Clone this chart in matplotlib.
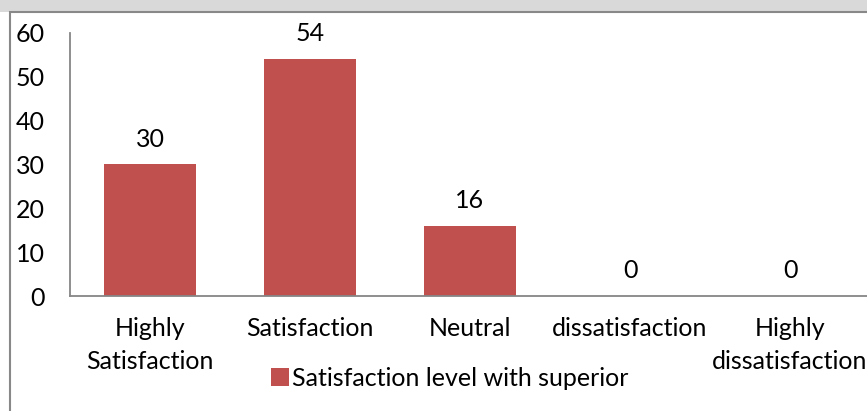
import matplotlib
matplotlib.use("Agg")
import matplotlib.pyplot as plt
from matplotlib.patches import Rectangle

categories = ["Highly\nSatisfaction", "Satisfaction", "Neutral",
              "dissatisfaction", "Highly\ndissatisfaction"]
values = [30, 54, 16, 0, 0]
series_name = "Satisfaction level with superior"
y_ticks = [0, 10, 20, 30, 40, 50, 60]

W, H = 867, 411
plt.rcParams['font.family'] = ['Lato', 'DejaVu Sans']

fig = plt.figure(figsize=(W / 100, H / 100), dpi=100)
fig.patch.set_facecolor("white")

# faint watermark band at the top and the outer chart frame
fig.patches.append(Rectangle((0, 1 - 12 / H), 1, 12 / H, transform=fig.transFigure,
                             facecolor="#d9d9d9", edgecolor="none", zorder=-2))
fig.patches.append(Rectangle((9.5 / W, -0.1), 1.2, 1 - 12.5 / H + 0.1,
                             transform=fig.transFigure, facecolor="white",
                             edgecolor="#888888", linewidth=1.5, zorder=-1))

ax = fig.add_axes([70 / W, (H - 296) / H, 800 / W, 263 / H])
ax.set_zorder(2)
ax.set_facecolor("none")
x = range(len(categories))
bars = ax.bar(x, values, width=0.57, color="#C0504D", label=series_name, zorder=2)

for xi, v in zip(x, values):
    ax.annotate(str(v), (xi, v), xytext=(0, 10), textcoords="offset points",
                ha="center", va="bottom", fontsize=18, color="black")

ax.set_xlim(-0.5, len(categories) - 0.5)
ax.set_ylim(0, 60)
ax.set_yticks(y_ticks)
ax.set_xticks(list(x))
ax.set_xticklabels(categories, linespacing=1.55)
ax.tick_params(axis="both", length=0, labelsize=18, colors="black")
ax.tick_params(axis="y", pad=18)
ax.tick_params(axis="x", pad=15)

for s in ["top", "right"]:
    ax.spines[s].set_visible(False)
for s in ["left", "bottom"]:
    ax.spines[s].set_color("#868686")
    ax.spines[s].set_linewidth(1.3)

ax.legend(loc="center", bbox_to_anchor=(450 / W, (H - 378) / H),
          bbox_transform=fig.transFigure, frameon=False, fontsize=18,
          handlelength=0.7, handleheight=0.7, handletextpad=0.15)

fig.savefig("out.png", dpi=100)
